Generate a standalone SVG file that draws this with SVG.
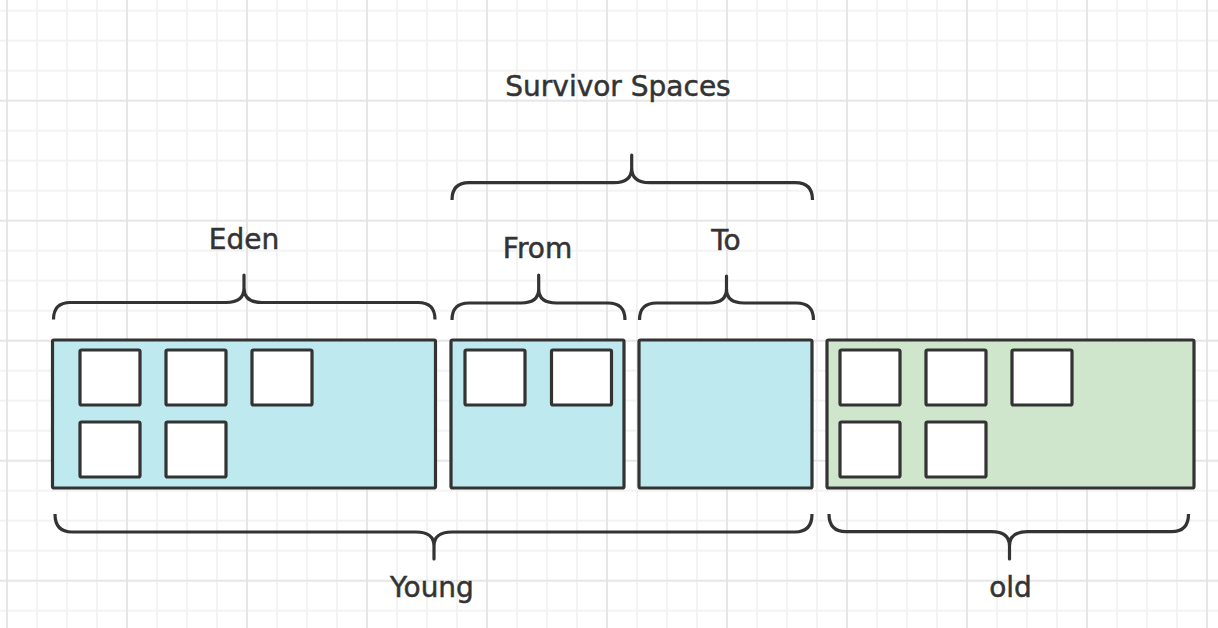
<svg xmlns="http://www.w3.org/2000/svg" width="1218" height="628" viewBox="0 0 1218 628">
  <defs>
    <pattern id="grid" patternUnits="userSpaceOnUse" x="-8" y="85.7" width="120" height="120">
      <rect x="0" y="44.25" width="120" height="1.5" fill="#f0f0f0"/>
      <rect x="0" y="74.25" width="120" height="1.5" fill="#f0f0f0"/>
      <rect x="0" y="104.25" width="120" height="1.5" fill="#f0f0f0"/>
      <rect x="44.25" y="0" width="1.5" height="120" fill="#f0f0f0"/>
      <rect x="74.25" y="0" width="1.5" height="120" fill="#f0f0f0"/>
      <rect x="104.25" y="0" width="1.5" height="120" fill="#f0f0f0"/>
      <rect x="0" y="14" width="120" height="2" fill="#e6e6e6"/>
      <rect x="14" y="0" width="2" height="120" fill="#e6e6e6"/>
    </pattern>
  </defs>
  <style>
    .young { fill: #bde9ef; stroke: #333333; stroke-width: 3.2; }
    .oldbox { fill: #cfe5cc; stroke: #333333; stroke-width: 3.2; }
    .obj { fill: #ffffff; stroke: #333333; stroke-width: 3.2; }
    .brace { fill: none; stroke: #333333; stroke-width: 3.2; stroke-linejoin: round; }
    .label { font-family: "DejaVu Sans", "Liberation Sans", sans-serif; font-size: 28px; fill: #333333; stroke: #333333; stroke-width: 0.5; text-anchor: middle; }
  </style>
  <rect x="0" y="0" width="1218" height="628" fill="#ffffff"/>
  <rect x="0" y="0" width="1218" height="628" fill="url(#grid)"/>

  <g id="eden">
    <rect class="young" x="52.5" y="340" width="383" height="148" rx="1.5"/>
    <rect class="obj" x="80" y="350" width="60" height="55" rx="1.5"/>
    <rect class="obj" x="166" y="350" width="60" height="55" rx="1.5"/>
    <rect class="obj" x="252" y="350" width="60" height="55" rx="1.5"/>
    <rect class="obj" x="80" y="422" width="60" height="55" rx="1.5"/>
    <rect class="obj" x="166" y="422" width="60" height="55" rx="1.5"/>
  </g>
  <g id="from">
    <rect class="young" x="451" y="340" width="173" height="148" rx="1.5"/>
    <rect class="obj" x="465" y="350" width="60" height="55" rx="1.5"/>
    <rect class="obj" x="551.5" y="350" width="60" height="55" rx="1.5"/>
  </g>
  <g id="to">
    <rect class="young" x="639" y="340" width="173" height="148" rx="1.5"/>
  </g>
  <g id="old">
    <rect class="oldbox" x="827" y="340" width="367" height="148" rx="1.5"/>
    <rect class="obj" x="840" y="350" width="60" height="55" rx="1.5"/>
    <rect class="obj" x="926" y="350" width="60" height="55" rx="1.5"/>
    <rect class="obj" x="1012" y="350" width="60" height="55" rx="1.5"/>
    <rect class="obj" x="840" y="422" width="60" height="55" rx="1.5"/>
    <rect class="obj" x="926" y="422" width="60" height="55" rx="1.5"/>
  </g>

  <g id="connectors">
    <path id="brace-survivor" class="brace" d="M452,200 Q452,182.7 469,182.7 L614,182.7 Q631.7,182.7 631.7,168 L631.7,155 L631.7,168 Q631.7,182.7 649.5,182.7 L795.5,182.7 Q812.5,182.7 812.5,200"/>
    <path id="brace-eden" class="brace" d="M53.5,319.5 Q53.5,302.5 70.5,302.5 L226,302.5 Q244,302.5 244,288 L244,275 L244,288 Q244,302.5 262,302.5 L418,302.5 Q435,302.5 435,319.5"/>
    <path id="brace-from" class="brace" d="M452,320 Q452,303 469,303 L521,303 Q538.7,303 538.7,289 L538.7,275 L538.7,289 Q538.7,303 556.5,303 L608,303 Q625,303 625,320"/>
    <path id="brace-to" class="brace" d="M639.5,320 Q639.5,303 656.5,303 L709,303 Q726.5,303 726.5,289 L726.5,276 L726.5,289 Q726.5,303 744,303 L796.5,303 Q813.5,303 813.5,320"/>
    <path id="brace-young" class="brace" d="M55,514 Q55,532 72,532 L416,532 Q434,532 434,546 L434,559 L434,546 Q434,532 452,532 L795,532 Q812,532 812,514"/>
    <path id="brace-old" class="brace" d="M829,514 Q829,531.7 846,531.7 L991.5,531.7 Q1009.5,531.7 1009.5,546 L1009.5,559 L1009.5,546 Q1009.5,531.7 1027.5,531.7 L1171.5,531.7 Q1188.5,531.7 1188.5,514"/>
  </g>

  <g id="labels">
    <text class="label" x="618" y="96">Survivor Spaces</text>
    <text class="label" x="244" y="249">Eden</text>
    <text class="label" x="537.5" y="258">From</text>
    <text class="label" x="726" y="250">To</text>
    <text class="label" x="432" y="597">Young</text>
    <text class="label" x="1010.5" y="597">old</text>
  </g>
</svg>
